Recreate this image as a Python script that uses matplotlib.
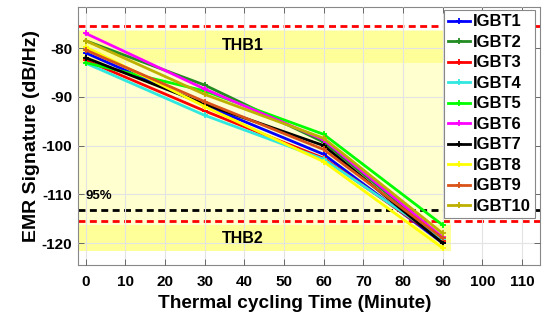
import matplotlib
matplotlib.use("Agg")
import matplotlib.pyplot as plt
from matplotlib.patches import Rectangle

plt.rcParams['font.family'] = ['Liberation Sans', 'DejaVu Sans']
plt.rcParams['font.weight'] = 'bold'
plt.rcParams['axes.unicode_minus'] = False

time_min = [0, 30, 60, 90]
labels = ['IGBT1', 'IGBT2', 'IGBT3', 'IGBT4', 'IGBT5',
          'IGBT6', 'IGBT7', 'IGBT8', 'IGBT9', 'IGBT10']
igbt1 = [-81.0, -91.7, -101.8, -120.0]
igbt2 = [-78.5, -87.6, -99.3, -119.0]
igbt3 = [-82.5, -92.9, -102.6, -119.5]
igbt4 = [-83.1, -93.8, -102.8, -119.2]
igbt5 = [-83.0, -88.8, -97.7, -116.3]
igbt6 = [-77.0, -88.4, -98.8, -118.8]
igbt7 = [-82.0, -91.5, -100.0, -120.0]
igbt8 = [-79.8, -92.0, -103.3, -121.0]
igbt9 = [-80.4, -91.0, -100.8, -119.0]
igbt10 = [-78.5, -89.5, -98.5, -118.0]
series = [igbt1, igbt2, igbt3, igbt4, igbt5, igbt6, igbt7, igbt8, igbt9, igbt10]
colors = ['#0000FF', '#228B22', '#FF0000', '#30E8E0', '#00FF00',
          '#FF00FF', '#000000', '#FFFF00', '#D95319', '#BDB000']

thb1_line = -75.5
thb2_line = -115.5
p95_line = -113.2
thb1_band = (-83.1, -76.6)
thb2_band = (-121.6, -116.3)
bg_band = (-121.6, -76.4)
band_x = (-1.6, 92)

x_ticks = list(range(0, 111, 10))
y_ticks = [-120, -110, -100, -90, -80]

fig = plt.figure(figsize=(5.48, 3.22), dpi=100)
ax = fig.add_axes([0.142, 0.177, 0.843, 0.801])

ax.add_patch(Rectangle((band_x[0], bg_band[0]), band_x[1] - band_x[0], bg_band[1] - bg_band[0],
                       facecolor='#FFFFCF', edgecolor='none', zorder=0))
for lo, hi in (thb1_band, thb2_band):
    ax.add_patch(Rectangle((band_x[0], lo), band_x[1] - band_x[0], hi - lo,
                           facecolor='#FFFF99', edgecolor='none', zorder=0.5))

ax.grid(True, color='#E3E3E3', linewidth=0.8, zorder=1)
ax.set_axisbelow(False)

for y, c in ((thb1_line, 'red'), (thb2_line, 'red'), (p95_line, 'black')):
    ax.axhline(y, color=c, linestyle=(0, (2.5, 1.6)), linewidth=2, zorder=2)

for s, lab, c in zip(series, labels, colors):
    ax.plot(time_min, s, color=c, linewidth=2, marker='+', markersize=5,
            markeredgewidth=1.3, label=lab, zorder=3)

ax.text(39.5, -79.4, 'THB1', ha='center', va='center', fontsize=11.5, fontweight='bold', zorder=4)
ax.text(39.5, -119.0, 'THB2', ha='center', va='center', fontsize=11.5, fontweight='bold', zorder=4)
ax.text(0, -110.3, '95%', ha='left', va='center', fontsize=9.5, fontweight='bold', zorder=4)

ax.set_xlim(-2, 114.5)
ax.set_ylim(-124.5, -71.6)
ax.set_xticks(x_ticks)
ax.set_yticks(y_ticks)
ax.tick_params(direction='in', top=True, right=True, labelsize=11, length=4,
               color='#555555', width=0.6)
ax.tick_params(axis='x', pad=7)
ax.tick_params(axis='y', pad=4)
for t in ax.get_xticklabels() + ax.get_yticklabels():
    t.set_fontweight('bold')
for sp in ax.spines.values():
    sp.set_color('#888888')
    sp.set_linewidth(0.8)

ax.set_xlabel('Thermal cycling Time (Minute)', fontsize=13.7, fontweight='bold', labelpad=3)
ax.xaxis.set_label_coords(0.47, -0.115)
ax.xaxis.label.set_va('top')
ax.set_ylabel('EMR Signature (dB/Hz)', fontsize=14, fontweight='bold', labelpad=1)

leg = ax.legend(loc='upper right', bbox_to_anchor=(0.989, 0.988), borderaxespad=0,
                fontsize=12, labelspacing=0.33, handlelength=1.3, handletextpad=0.15,
                borderpad=0.25, fancybox=False, framealpha=1, edgecolor='#888888')
leg.get_frame().set_linewidth(0.8)
leg.set_zorder(10)
for t in leg.get_texts():
    t.set_fontweight('bold')

fig.savefig('out.png', dpi=100)
